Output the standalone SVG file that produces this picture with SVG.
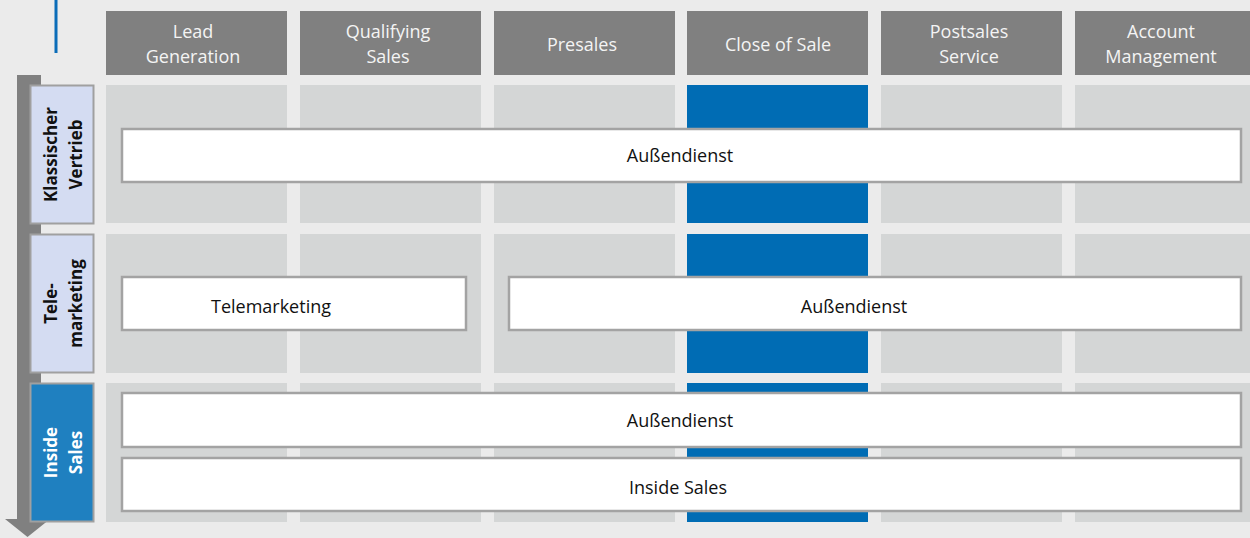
<svg xmlns="http://www.w3.org/2000/svg" width="1250" height="538" viewBox="0 0 1250 538">
<style>
.hd{fill:#808080}
.hdt{font-family:"Open Sans","Noto Sans",sans-serif;font-size:18px;fill:#f4f4f4;text-anchor:middle}
.cell{fill:#d4d6d6}
.blue{fill:#006cb4}
.lbl{fill:#d4dcf2;stroke:#a0a0a0;stroke-width:2}
.lblb{fill:#1f80c0;stroke:#a0a0a0;stroke-width:2}
.lt{font-family:"Open Sans","Noto Sans",sans-serif;font-size:17px;font-weight:bold;fill:#111;text-anchor:middle}
.ltw{fill:#fff}
.bar{fill:#fff;stroke:#a3a3a3;stroke-width:2.5}
.bt{font-family:"Open Sans","Noto Sans",sans-serif;font-size:18px;fill:#111;text-anchor:middle}
</style>
<rect width="1250" height="538" fill="#ebebeb"/>
<rect x="54.5" y="0" width="3" height="53" fill="#0a6cb8"/>

<g id="headers">
<g id="h-lead"><rect class="hd" x="106" y="11" width="181" height="64"/><text class="hdt" x="193" y="38">Lead</text><text class="hdt" x="193" y="63">Generation</text></g>
<g id="h-qual"><rect class="hd" x="300" y="11" width="181" height="64"/><text class="hdt" x="388" y="38">Qualifying</text><text class="hdt" x="388" y="63">Sales</text></g>
<g id="h-pre"><rect class="hd" x="494" y="11" width="181" height="64"/><text class="hdt" x="582" y="51">Presales</text></g>
<g id="h-close"><rect class="hd" x="687" y="11" width="181" height="64"/><text class="hdt" x="778" y="51">Close of Sale</text></g>
<g id="h-post"><rect class="hd" x="881" y="11" width="181" height="64"/><text class="hdt" x="969" y="38">Postsales</text><text class="hdt" x="969" y="63">Service</text></g>
<g id="h-acc"><rect class="hd" x="1075" y="11" width="181" height="64"/><text class="hdt" x="1161" y="38">Account</text><text class="hdt" x="1161" y="63">Management</text></g>
</g>

<g id="cells">
<rect class="cell" x="106" y="85" width="181" height="138"/>
<rect class="cell" x="300" y="85" width="181" height="138"/>
<rect class="cell" x="494" y="85" width="181" height="138"/>
<rect class="blue" x="687" y="85" width="181" height="138"/>
<rect class="cell" x="881" y="85" width="181" height="138"/>
<rect class="cell" x="1075" y="85" width="181" height="138"/>
<rect class="cell" x="106" y="234" width="181" height="139"/>
<rect class="cell" x="300" y="234" width="181" height="139"/>
<rect class="cell" x="494" y="234" width="181" height="139"/>
<rect class="blue" x="687" y="234" width="181" height="139"/>
<rect class="cell" x="881" y="234" width="181" height="139"/>
<rect class="cell" x="1075" y="234" width="181" height="139"/>
<rect class="cell" x="106" y="383" width="181" height="139"/>
<rect class="cell" x="300" y="383" width="181" height="139"/>
<rect class="cell" x="494" y="383" width="181" height="139"/>
<rect class="blue" x="687" y="383" width="181" height="139"/>
<rect class="cell" x="881" y="383" width="181" height="139"/>
<rect class="cell" x="1075" y="383" width="181" height="139"/>
</g>

<g id="axis">
<rect x="17" y="75" width="24" height="445" fill="#808080"/>
<polygon points="5,519 50,519 27.5,537" fill="#808080"/>
</g>

<g id="row-klassisch">
<rect class="lbl" x="30.5" y="85.5" width="63" height="138"/>
<text class="lt" transform="translate(57,154.5) rotate(-90)">Klassischer</text>
<text class="lt" transform="translate(82,154.5) rotate(-90)">Vertrieb</text>
</g>
<g id="row-tele">
<rect class="lbl" x="30.5" y="234.5" width="63" height="138"/>
<text class="lt" transform="translate(57,303.5) rotate(-90)">Tele-</text>
<text class="lt" transform="translate(82,303.5) rotate(-90)">marketing</text>
</g>
<g id="row-inside">
<rect class="lblb" x="30.5" y="383.5" width="63" height="138"/>
<text class="lt ltw" transform="translate(57,452.5) rotate(-90)">Inside</text>
<text class="lt ltw" transform="translate(82,452.5) rotate(-90)">Sales</text>
</g>

<g id="bar-r1-aussendienst"><rect class="bar" x="122" y="129" width="1119" height="53"/><text class="bt" x="680" y="162">Außendienst</text></g>
<g id="bar-r2-telemarketing"><rect class="bar" x="122" y="277" width="344" height="53"/><text class="bt" x="271" y="313">Telemarketing</text></g>
<g id="bar-r2-aussendienst"><rect class="bar" x="509" y="277" width="732" height="53"/><text class="bt" x="854" y="313">Außendienst</text></g>
<g id="bar-r3-aussendienst"><rect class="bar" x="122" y="393" width="1119" height="54"/><text class="bt" x="680" y="427">Außendienst</text></g>
<g id="bar-r3-inside"><rect class="bar" x="122" y="458" width="1119" height="53"/><text class="bt" x="678" y="494">Inside Sales</text></g>
<g id="connectors"/>
</svg>
